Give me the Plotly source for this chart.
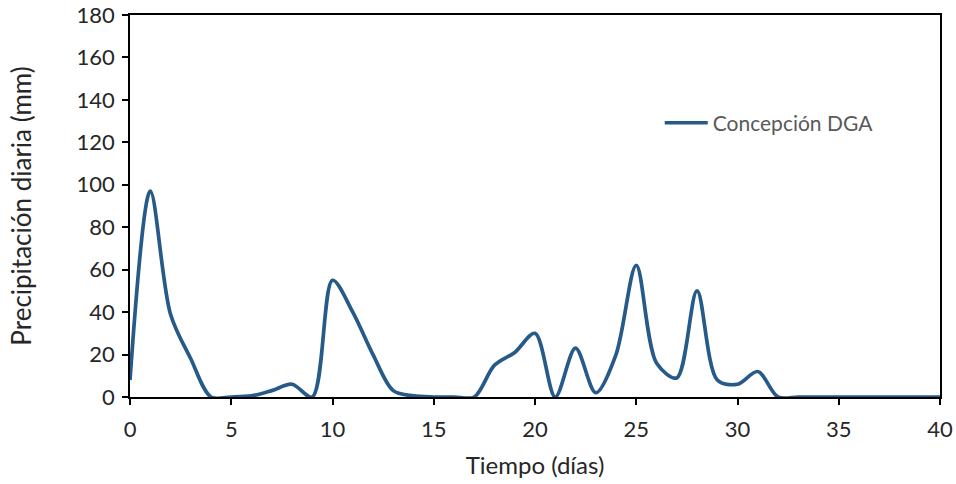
import plotly.graph_objects as go

dias = list(range(0, 41))
precip = [8, 97, 39, 18, 0, 0, 0.5, 3, 6, 0,
          55, 40, 20, 3, 0.5, 0, 0, 0, 15, 21,
          30, 0, 23, 2, 20, 62, 16, 9, 50, 8,
          6, 12, 0, 0, 0, 0, 0, 0, 0, 0, 0]
x_ticks = [0, 5, 10, 15, 20, 25, 30, 35, 40]
y_ticks = [0, 20, 40, 60, 80, 100, 120, 140, 160, 180]

FONT = "Lato, Open Sans, Liberation Sans, sans-serif"

fig = go.Figure()
fig.add_trace(go.Scatter(
    x=dias, y=precip, mode="lines", name="Concepción DGA",
    line=dict(color="#265A88", width=3.7, shape="spline", smoothing=0.9),
))

axis_common = dict(
    showline=True, linecolor="black", linewidth=1.5, mirror=True,
    ticks="outside", ticklen=6, tickcolor="black", tickwidth=1.5,
    showgrid=False, zeroline=False, automargin=False,
    tickfont=dict(family=FONT, size=22, color="#262626"),
)

fig.update_layout(
    width=956, height=484,
    margin=dict(l=130, r=16, t=15, b=87),
    paper_bgcolor="white", plot_bgcolor="white",
    font=dict(family=FONT, size=22, color="#262626"),
    xaxis=dict(range=[0, 40], tickvals=x_ticks, ticklabelstandoff=6,
               title=dict(text="Tiempo (días)", font=dict(family=FONT, size=24, color="#262626"), standoff=16),
               **axis_common),
    yaxis=dict(range=[0, 180], tickvals=y_ticks, ticklabelstandoff=3,
               title=dict(text="Precipitación diaria (mm)", font=dict(family=FONT, size=26, color="#262626"), standoff=37),
               **axis_common),
    showlegend=True,
    legend=dict(x=0.654, y=0.717, xanchor="left", yanchor="middle",
                itemwidth=43,
                font=dict(family=FONT, size=21, color="#595959"),
                bgcolor="rgba(0,0,0,0)"),
)

fig.write_html("out.html")
